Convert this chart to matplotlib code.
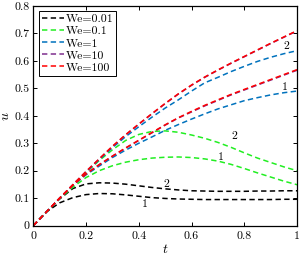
import numpy as np
import matplotlib
matplotlib.use("Agg")
import matplotlib.pyplot as plt

t = [0, 0.05, 0.1, 0.15, 0.2, 0.25, 0.3, 0.35, 0.4, 0.45, 0.5,
     0.55, 0.6, 0.65, 0.7, 0.75, 0.8, 0.85, 0.9, 0.95, 1.0]

# We = 0.01
u_we001_1 = [0, 0.05, 0.083, 0.102, 0.113, 0.117, 0.116, 0.112, 0.107, 0.102, 0.099,
             0.097, 0.096, 0.095, 0.095, 0.095, 0.095, 0.095, 0.095, 0.096, 0.096]
u_we001_2 = [0, 0.05, 0.097, 0.135, 0.152, 0.156, 0.155, 0.151, 0.145, 0.139, 0.134,
             0.130, 0.127, 0.126, 0.125, 0.125, 0.125, 0.126, 0.126, 0.127, 0.127]
# We = 0.1
u_we01_1 = [0, 0.05, 0.098, 0.140, 0.175, 0.200, 0.218, 0.231, 0.240, 0.246, 0.249,
            0.250, 0.248, 0.243, 0.235, 0.223, 0.208, 0.192, 0.177, 0.162, 0.149]
u_we01_2 = [0, 0.05, 0.099, 0.146, 0.193, 0.237, 0.276, 0.310, 0.332, 0.343, 0.345,
            0.340, 0.330, 0.318, 0.303, 0.285, 0.265, 0.246, 0.230, 0.214, 0.200]
# We = 1
u_we1_1 = [0, 0.05, 0.1, 0.146, 0.185, 0.217, 0.248, 0.275, 0.300, 0.323, 0.347,
           0.368, 0.388, 0.407, 0.425, 0.440, 0.455, 0.466, 0.476, 0.484, 0.490]
u_we1_2 = [0, 0.05, 0.1, 0.148, 0.195, 0.240, 0.284, 0.324, 0.360, 0.395, 0.428,
           0.458, 0.490, 0.520, 0.540, 0.561, 0.580, 0.598, 0.613, 0.626, 0.637]
# We = 10
u_we10_1 = [0, 0.05, 0.1, 0.147, 0.188, 0.222, 0.253, 0.282, 0.310, 0.338, 0.366,
            0.392, 0.414, 0.436, 0.456, 0.476, 0.494, 0.512, 0.530, 0.548, 0.566]
u_we10_2 = [0, 0.05, 0.1, 0.149, 0.197, 0.243, 0.288, 0.330, 0.369, 0.407, 0.444,
            0.479, 0.511, 0.540, 0.566, 0.591, 0.615, 0.639, 0.663, 0.686, 0.709]
# We = 100
u_we100_1 = [0, 0.05, 0.1, 0.147, 0.188, 0.222, 0.253, 0.283, 0.311, 0.339, 0.367,
             0.393, 0.416, 0.438, 0.458, 0.478, 0.496, 0.514, 0.532, 0.550, 0.568]
u_we100_2 = [0, 0.05, 0.1, 0.149, 0.197, 0.243, 0.289, 0.331, 0.370, 0.408, 0.445,
             0.480, 0.512, 0.541, 0.567, 0.592, 0.616, 0.640, 0.664, 0.687, 0.710]

labels = ["We=0.01", "We=0.1", "We=1", "We=10", "We=100"]
colors = ["black", "#22ee22", "#0072bd", "#7e2f8e", "#ff0000"]
series = [(u_we001_1, u_we001_2), (u_we01_1, u_we01_2), (u_we1_1, u_we1_2),
          (u_we10_1, u_we10_2), (u_we100_1, u_we100_2)]

plt.rcParams["font.family"] = "serif"
plt.rcParams["font.serif"] = ["cmr10", "DejaVu Serif"]
plt.rcParams["mathtext.fontset"] = "cm"
plt.rcParams["axes.formatter.use_mathtext"] = True

fig = plt.figure(figsize=(3.05, 2.57), dpi=100)
ax = fig.add_axes([0.109, 0.122, 0.865, 0.855])

for (s1, s2), c, lab in zip(series, colors, labels):
    ax.plot(t, s1, ls=(0, (3.5, 2.2)), color=c, lw=1.1, label=lab)
    ax.plot(t, s2, ls=(0, (3.5, 2.2)), color=c, lw=1.1)

ax.set_xlim(0, 1)
ax.set_ylim(0, 0.8)
ax.set_xticks([0, 0.2, 0.4, 0.6, 0.8, 1])
ax.set_xticklabels(["0", "0.2", "0.4", "0.6", "0.8", "1"])
ax.set_yticks([0, 0.1, 0.2, 0.3, 0.4, 0.5, 0.6, 0.7, 0.8])
ax.set_yticklabels(["0", "0.1", "0.2", "0.3", "0.4", "0.5", "0.6", "0.7", "0.8"])
ax.tick_params(direction="in", top=True, right=True, labelsize=8.5, length=3, width=0.7)
ax.tick_params(axis="x", pad=4)
ax.tick_params(axis="y", pad=2.5)
for sp in ax.spines.values():
    sp.set_linewidth(0.9)

ax.set_xlabel("$t$", fontsize=10, labelpad=2)
ax.set_ylabel("$u$", fontsize=10, labelpad=2, rotation=90)

leg = ax.legend(loc="upper left", fontsize=8.5, frameon=True, fancybox=False,
                edgecolor="black", framealpha=1, handlelength=1.9, handletextpad=0.15,
                borderpad=0.25, labelspacing=0.15, borderaxespad=0.45)
leg.get_frame().set_linewidth(0.7)

ann = [(0.96, 0.652, "2"), (0.953, 0.505, "1"), (0.764, 0.324, "2"), (0.71, 0.248, "1"),
       (0.503, 0.151, "2"), (0.423, 0.079, "1")]
for x, y, s in ann:
    ax.text(x, y, s, fontsize=8.5, ha="center", va="center")

fig.savefig("out.png", dpi=100)
